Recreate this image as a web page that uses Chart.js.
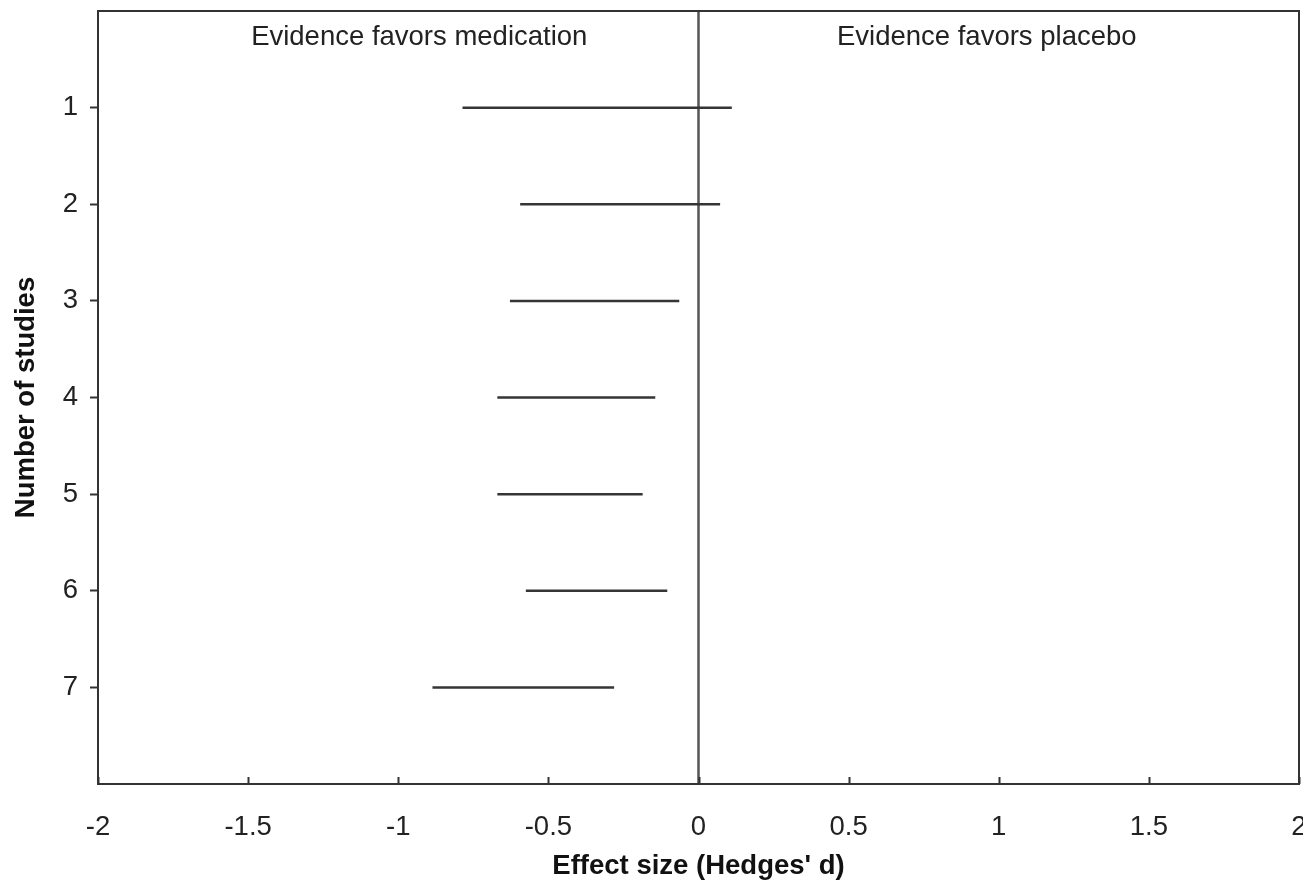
<!DOCTYPE html>
<html>
<head>
<meta charset="utf-8">
<script src="https://cdn.jsdelivr.net/npm/chart.js@4.4.1/dist/chart.umd.min.js"></script>
<style>
html,body{margin:0;padding:0;background:#fff;}
canvas{display:block;}
</style>
</head>
<body>
<canvas id="c" width="1303" height="881"></canvas>
<script>
// ---- data ----
const studies = [1, 2, 3, 4, 5, 6, 7];
const lowerCI = [-0.786, -0.594, -0.628, -0.670, -0.670, -0.575, -0.886];
const upperCI = [0.111, 0.072, -0.064, -0.144, -0.186, -0.104, -0.281];
const xTicks = [-2, -1.5, -1, -0.5, 0, 0.5, 1, 1.5, 2];
const yTicks = [1, 2, 3, 4, 5, 6, 7];
const regionLabels = ['Evidence favors medication', 'Evidence favors placebo'];
const regionX = [-0.93, 0.96];
const xTitle = "Effect size (Hedges' d)";
const yTitle = 'Number of studies';

const FONT = '"Liberation Sans", Arial, sans-serif';
const FS = 27.5;
const INK = '#333333';

const datasets = studies.map((s, i) => ({
  data: [{x: lowerCI[i], y: s}, {x: upperCI[i], y: s}],
  borderColor: '#353535',
  borderWidth: 2.5,
  pointRadius: 0,
  showLine: true,
  fill: false
}));
datasets.push({
  data: [{x: 0, y: 0}, {x: 0, y: 8}],
  borderColor: '#555555',
  borderWidth: 2.5,
  pointRadius: 0,
  showLine: true,
  fill: false
});

const framePlugin = {
  id: 'frame',
  afterDatasetsDraw(chart) {
    const {ctx, chartArea: a, scales} = chart;
    ctx.save();
    ctx.strokeStyle = INK;
    ctx.lineWidth = 2;
    ctx.strokeRect(a.left, a.top, a.right - a.left, a.bottom - a.top);
    // inner x ticks
    ctx.beginPath();
    xTicks.forEach(v => {
      const px = Math.round(scales.x.getPixelForValue(v)) + 0.5;
      ctx.moveTo(px, a.bottom);
      ctx.lineTo(px, a.bottom - 7);
    });
    ctx.stroke();
    // region labels
    ctx.fillStyle = '#222';
    ctx.font = FS + 'px ' + FONT;
    ctx.textAlign = 'center';
    ctx.textBaseline = 'middle';
    regionLabels.forEach((t, i) => {
      ctx.fillText(t, scales.x.getPixelForValue(regionX[i]), scales.y.getPixelForValue(0.27));
    });
    ctx.restore();
  }
};

new Chart(document.getElementById('c'), {
  type: 'scatter',
  data: {datasets},
  plugins: [framePlugin],
  options: {
    responsive: false,
    devicePixelRatio: 1,
    animation: false,
    layout: {padding: {top: 11, right: 4, left: 0, bottom: 0}},
    plugins: {legend: {display: false}, tooltip: {enabled: false}},
    scales: {
      x: {
        type: 'linear',
        min: -2, max: 2,
        afterBuildTicks(scale) { scale.ticks = xTicks.map(v => ({value: v})); },
        afterFit(scale) { scale.height = 97; scale.paddingLeft = 0; scale.paddingRight = 0; },
        grid: {display: true, drawOnChartArea: false, drawTicks: false},
        border: {display: true, color: INK, width: 2},
        ticks: {
          color: '#222', font: {family: FONT, size: FS}, padding: 27,
          maxRotation: 0, autoSkip: false,
          callback: v => String(v)
        },
        title: {display: true, text: xTitle, color: '#111',
          font: {family: FONT, size: FS, weight: 'bold'}, padding: {top: 0, bottom: -2}}
      },
      y: {
        type: 'linear',
        min: 0, max: 8,
        reverse: true,
        afterBuildTicks(scale) { scale.ticks = yTicks.map(v => ({value: v})); },
        afterFit(scale) { scale.width = 98; scale.paddingTop = 0; scale.paddingBottom = 0; },
        grid: {display: true, drawOnChartArea: false, drawTicks: true, tickLength: 8, color: INK, tickWidth: 2},
        border: {display: true, color: INK, width: 2},
        ticks: {
          color: '#222', font: {family: FONT, size: FS}, padding: 12,
          callback: v => String(v)
        },
        title: {display: true, text: yTitle, color: '#111',
          font: {family: FONT, size: FS, weight: 'bold'}, padding: {top: 10, bottom: 0}}
      }
    }
  }
});
</script>
</body>
</html>
